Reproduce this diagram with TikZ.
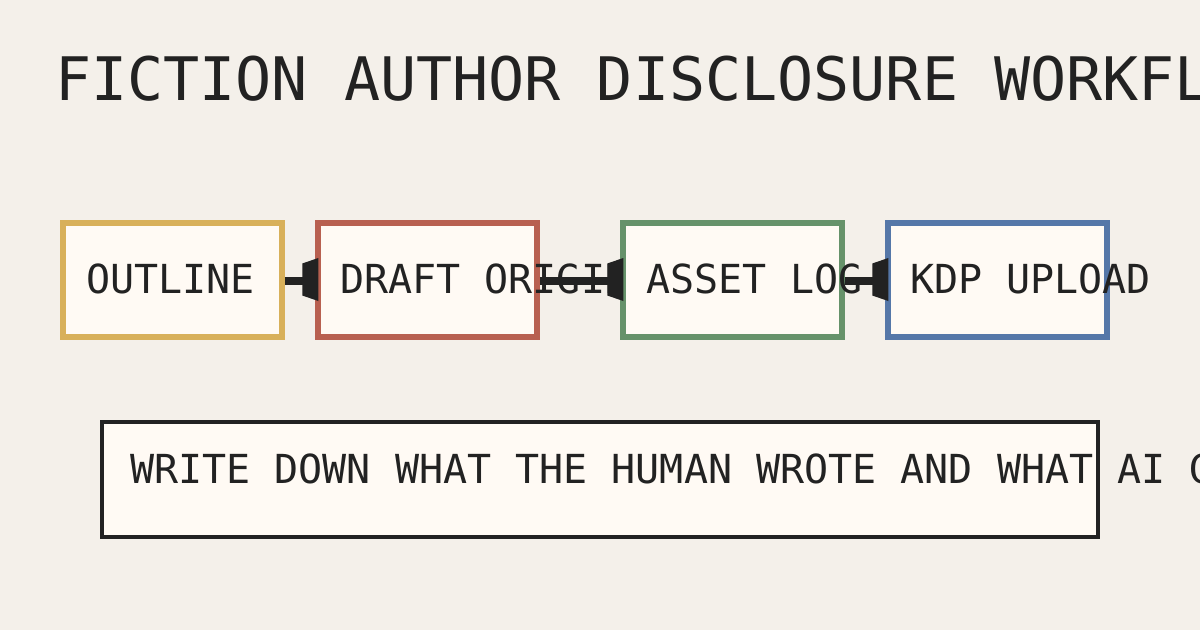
\documentclass[tikz,border=0pt]{standalone}
\usepackage{fontspec}
\newfontfamily\pixfont{DejaVu Sans Mono}
\usetikzlibrary{calc}
\definecolor{bgc}{HTML}{F4F0EA}
\definecolor{boxfill}{HTML}{FFFAF4}
\definecolor{goldc}{HTML}{D8B05A}
\definecolor{redc}{HTML}{B86050}
\definecolor{greenc}{HTML}{66926A}
\definecolor{bluec}{HTML}{5577A8}
\definecolor{ink}{HTML}{222222}
\tikzset{
  stagebox/.style={draw, fill=boxfill, line width=5.5pt, minimum width=219pt, minimum height=114pt, inner sep=0pt},
  notebox/.style={draw=ink, fill=boxfill, line width=4pt, minimum width=996pt, minimum height=115pt, inner sep=0pt},
  lbl/.style={anchor=base west, inner sep=0pt, text=ink, font=\pixfont\fontsize{40}{40}\selectfont},
  ttl/.style={anchor=base west, inner sep=0pt, text=ink, font=\pixfont\fontsize{60}{60}\selectfont},
  conn/.style={draw=ink, line width=8pt},
  headc/.style={fill=ink},
}
\begin{document}
\begin{tikzpicture}[x=1pt,y=-1pt]
\useasboundingbox (0,0) rectangle (1200,630);
\clip (0,0) rectangle (1200,630);
\fill[bgc] (0,0) rectangle (1200,630);
\node[ttl] (title) at (55,100.5) {FICTION AUTHOR DISCLOSURE WORKFLOW};
\node[stagebox, draw=goldc] (outline) at (172.5,280) {};
\node[lbl] (t1) at (86,293) {OUTLINE};
\node[stagebox, draw=redc] (draft) at (427.5,280) {};
\node[lbl] (t2) at (340,293) {DRAFT ORIGIN};
\node[stagebox, draw=greenc] (asset) at (732.5,280) {};
\node[lbl] (t3) at (646,293) {ASSET LOG};
\node[stagebox, draw=bluec] (kdp) at (997.5,280) {};
\node[lbl] (t4) at (910,293) {KDP UPLOAD};
\foreach \s/\t in {outline/draft, draft/asset, asset/kdp}{
  \draw[conn] ([yshift=-0.5pt]\s.east) -- ([xshift=-12pt,yshift=-0.5pt]\t.west);
  \fill[headc] ($(\t.west)+(-13,-16.5)$) -- ($(\t.west)+(3,-22)$) -- ($(\t.west)+(3,21)$) -- ($(\t.west)+(-13,15.5)$) -- cycle;
}
\node[notebox] (note) at (600,479.7) {};
\node[lbl] (t5) at (130,483) {WRITE DOWN WHAT THE HUMAN WROTE AND WHAT AI GENERATED};
\end{tikzpicture}
\end{document}
